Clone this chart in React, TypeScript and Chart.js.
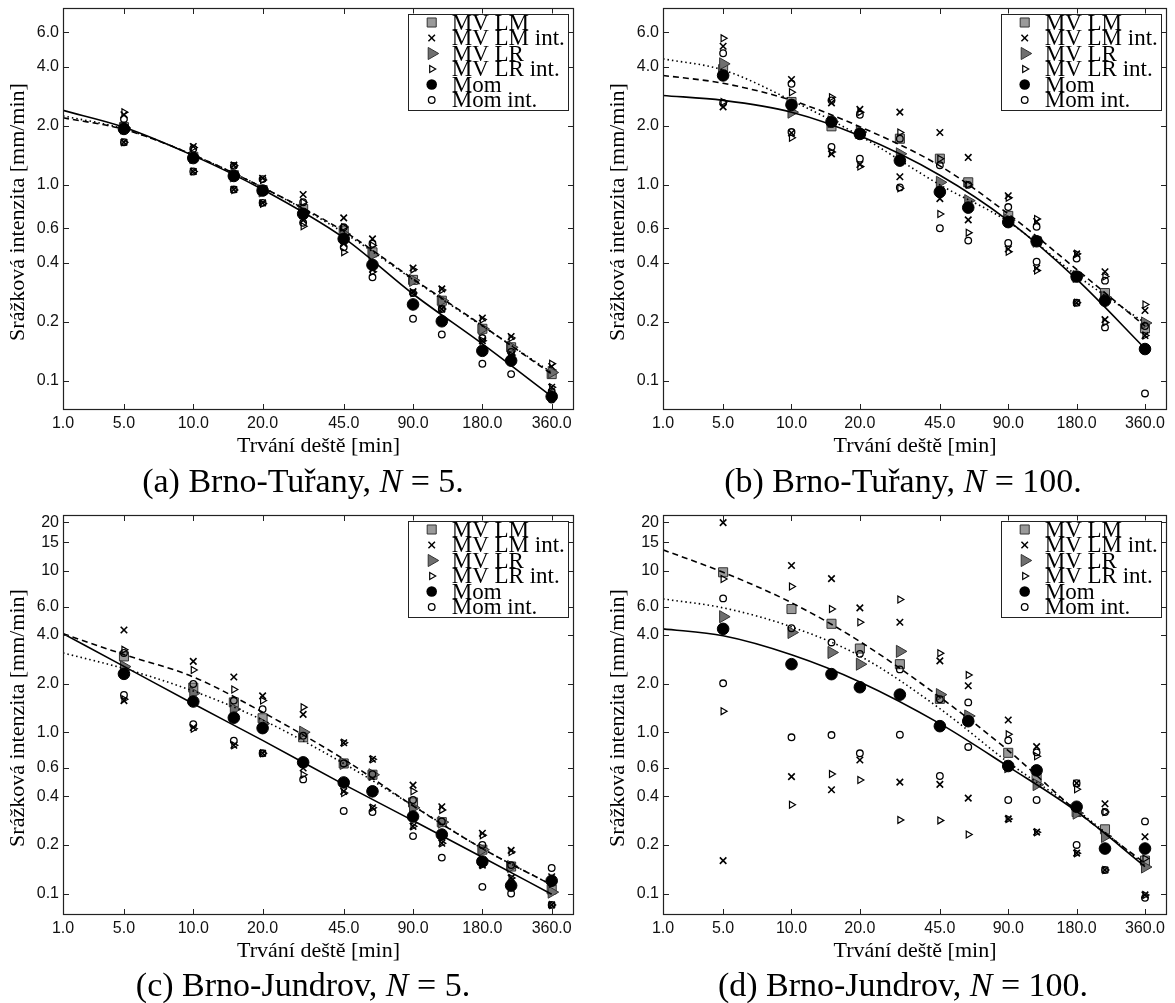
import React, { useEffect, useRef } from "react";
import { Chart, registerables } from "chart.js";

Chart.register(...registerables);
Chart.defaults.font.family = "'Liberation Sans', Arial, sans-serif";

const E = Math.E;

// ---------- axes / categories ----------
const DURATIONS = [5, 10, 15, 20, 30, 45, 60, 90, 120, 180, 240, 360];
const FIT_X = [E, 5, 10, 20, 45, 90, 180, 360];
const X_TICKS = [E, 5, 10, 20, 45, 90, 180, 360];
const X_TICK_LABELS = ["1.0", "5.0", "10.0", "20.0", "45.0", "90.0", "180.0", "360.0"];
const Y_TICKS_TURANY = [0.1, 0.2, 0.4, 0.6, 1, 2, 4, 6];
const Y_TICK_LABELS_TURANY = ["0.1", "0.2", "0.4", "0.6", "1.0", "2.0", "4.0", "6.0"];
const Y_TICKS_JUNDROV = [0.1, 0.2, 0.4, 0.6, 1, 2, 4, 6, 10, 15, 20];
const Y_TICK_LABELS_JUNDROV = ["0.1", "0.2", "0.4", "0.6", "1.0", "2.0", "4.0", "6.0", "10", "15", "20"];
const LEGEND_LABELS = ["MV LM", "MV LM int.", "MV LR", "MV LR int.", "Mom", "Mom int."];
const X_TITLE = "Trvání deště [min]";
const Y_TITLE = "Srážková intenzita [mm/min]";

// ---------- (a) Brno-Tuřany, N = 5 ----------
const A_MV_LM = [1.97, 1.39, 1.12, 0.94, 0.754, 0.584, 0.452, 0.327, 0.256, 0.184, 0.148, 0.108];
const A_MV_LM_INT_LO = [1.65, 1.17, 0.946, 0.809, 0.66, 0.5, 0.37, 0.285, 0.232, 0.16, 0.135, 0.0925];
const A_MV_LM_INT_HI = [2.28, 1.57, 1.26, 1.08, 0.892, 0.678, 0.53, 0.376, 0.294, 0.209, 0.168, 0.118];
const A_MV_LR = [1.95, 1.38, 1.11, 0.93, 0.72, 0.56, 0.44, 0.325, 0.256, 0.184, 0.148, 0.11];
const A_MV_LR_INT_LO = [1.65, 1.17, 0.94, 0.8, 0.614, 0.453, 0.36, 0.28, 0.232, 0.16, 0.135, 0.0925];
const A_MV_LR_INT_HI = [2.35, 1.55, 1.25, 1.06, 0.815, 0.607, 0.49, 0.37, 0.29, 0.205, 0.165, 0.122];
const A_MOM = [1.93, 1.37, 1.11, 0.935, 0.711, 0.53, 0.39, 0.245, 0.201, 0.142, 0.1265, 0.083];
const A_MOM_INT_LO = [1.65, 1.17, 0.946, 0.809, 0.64, 0.48, 0.337, 0.207, 0.172, 0.122, 0.108, 0.08];
const A_MOM_INT_HI = [2.17, 1.53, 1.25, 1.07, 0.815, 0.607, 0.5, 0.28, 0.232, 0.165, 0.14, 0.088];
const A_FIT_MOM = [2.4, 1.97, 1.41, 0.946, 0.536, 0.277, 0.154, 0.083];
const A_FIT_LM = [2.2, 1.92, 1.42, 0.97, 0.58, 0.331, 0.191, 0.108];
const A_FIT_LR = [2.25, 1.93, 1.42, 0.97, 0.57, 0.328, 0.19, 0.11];

// ---------- (b) Brno-Tuřany, N = 100 ----------
const B_MV_LM = [3.9, 2.65, 1.99, 1.82, 1.72, 1.36, 1.03, 0.694, 0.515, 0.34, 0.28, 0.185];
const B_MV_LM_INT_LO = [2.5, 1.84, 1.44, 1.27, 1.1, 0.85, 0.662, 0.47, 0.375, 0.25, 0.205, 0.17];
const B_MV_LM_INT_HI = [5.1, 3.45, 2.62, 2.43, 2.35, 1.85, 1.38, 0.88, 0.65, 0.444, 0.36, 0.228];
const B_MV_LR = [4.15, 2.35, 2.1, 1.86, 1.44, 1.03, 0.83, 0.66, 0.515, 0.34, 0.266, 0.197];
const B_MV_LR_INT_LO = [2.65, 1.74, 1.47, 1.24, 0.96, 0.71, 0.57, 0.455, 0.365, 0.25, 0.198, 0.17];
const B_MV_LR_INT_HI = [5.6, 2.97, 2.8, 2.35, 1.85, 1.36, 1.0, 0.86, 0.67, 0.444, 0.34, 0.245];
const B_MOM = [3.62, 2.56, 2.1, 1.82, 1.33, 0.92, 0.765, 0.645, 0.515, 0.34, 0.256, 0.145];
const B_MOM_INT_LO = [2.62, 1.86, 1.56, 1.36, 0.97, 0.6, 0.519, 0.505, 0.405, 0.25, 0.187, 0.086];
const B_MOM_INT_HI = [4.7, 3.28, 2.7, 2.28, 1.72, 1.26, 1.0, 0.77, 0.61, 0.42, 0.324, 0.19];
const B_FIT_MOM = [2.86, 2.7, 2.35, 1.78, 1.12, 0.657, 0.33, 0.146];
const B_FIT_LM = [3.62, 3.3, 2.7, 1.98, 1.25, 0.71, 0.37, 0.19];
const B_FIT_LR = [4.4, 3.86, 2.7, 1.78, 1.0, 0.648, 0.345, 0.197];

// ---------- (c) Brno-Jundrov, N = 5 ----------
const C_MV_LM = [2.95, 1.89, 1.53, 1.22, 0.93, 0.64, 0.545, 0.367, 0.277, 0.187, 0.147, 0.106];
const C_MV_LM_INT_LO = [1.57, 1.07, 0.83, 0.74, 0.6, 0.43, 0.34, 0.261, 0.205, 0.15, 0.125, 0.085];
const C_MV_LM_INT_HI = [4.3, 2.75, 2.2, 1.68, 1.29, 0.86, 0.68, 0.47, 0.345, 0.2365, 0.185, 0.127];
const C_MV_LR = [2.55, 1.745, 1.39, 1.13, 1.0, 0.64, 0.545, 0.34, 0.277, 0.187, 0.147, 0.102];
const C_MV_LR_INT_LO = [1.6, 1.05, 0.83, 0.74, 0.545, 0.42, 0.34, 0.261, 0.205, 0.15, 0.125, 0.085];
const C_MV_LR_INT_HI = [3.24, 2.43, 1.84, 1.57, 1.43, 0.86, 0.68, 0.43, 0.33, 0.23, 0.181, 0.115];
const C_MOM = [2.3, 1.55, 1.23, 1.06, 0.65, 0.488, 0.43, 0.3, 0.232, 0.158, 0.112, 0.12];
const C_MOM_INT_LO = [1.7, 1.12, 0.885, 0.74, 0.51, 0.325, 0.32, 0.227, 0.167, 0.11, 0.1, 0.085];
const C_MOM_INT_HI = [3.1, 1.99, 1.57, 1.39, 0.95, 0.64, 0.55, 0.38, 0.28, 0.2, 0.15, 0.144];
const C_FIT_MOM = [4.08, 2.56, 1.5, 0.89, 0.475, 0.283, 0.168, 0.099];
const C_FIT_LM = [4.08, 3.03, 2.2, 1.33, 0.68, 0.35, 0.19, 0.113];
const C_FIT_LR = [3.1, 2.48, 1.8, 1.19, 0.64, 0.35, 0.19, 0.113];

// ---------- (d) Brno-Jundrov, N = 100 ----------
const D_MV_LM = [9.8, 5.8, 4.7, 3.3, 2.64, 1.61, 1.2, 0.745, 0.52, 0.32, 0.25, 0.16];
const D_MV_LM_INT_LO = [0.16, 0.53, 0.44, 0.673, 0.49, 0.475, 0.39, 0.29, 0.24, 0.178, 0.14, 0.098];
const D_MV_LM_INT_HI = [19.9, 10.8, 8.95, 5.9, 4.8, 2.77, 1.94, 1.19, 0.814, 0.483, 0.36, 0.225];
const D_MV_LR = [5.2, 4.15, 3.12, 2.64, 3.17, 1.71, 1.26, 0.61, 0.473, 0.315, 0.226, 0.146];
const D_MV_LR_INT_LO = [1.35, 0.355, 0.55, 0.505, 0.286, 0.284, 0.232, 0.29, 0.24, 0.178, 0.14, 0.098];
const D_MV_LR_INT_HI = [8.9, 8.0, 5.8, 4.8, 6.65, 3.09, 2.26, 0.97, 0.71, 0.443, 0.32, 0.165];
const D_MOM = [4.37, 2.64, 2.29, 1.9, 1.71, 1.09, 1.17, 0.617, 0.58, 0.345, 0.19, 0.19];
const D_MOM_INT_LO = [2.01, 0.93, 0.96, 0.74, 0.965, 0.535, 0.81, 0.38, 0.38, 0.2, 0.14, 0.094];
const D_MOM_INT_HI = [6.75, 4.41, 3.6, 3.06, 2.45, 1.6, 1.53, 0.89, 0.75, 0.483, 0.32, 0.28];
const D_FIT_MOM = [4.37, 3.96, 3.02, 2.05, 1.13, 0.612, 0.323, 0.147];
const D_FIT_LM = [13.5, 9.8, 6.35, 3.65, 1.65, 0.77, 0.325, 0.154];
const D_FIT_LR = [6.7, 5.9, 4.5, 2.97, 1.4, 0.65, 0.33, 0.15];

// ---------- styles ----------
const SQ_FILL = "#9a9a9a";
const TRI_FILL = "#6f6f6f";
const EDGE = "#333";
const SERIF = "'Liberation Serif', 'Times New Roman', serif";

// marker sizes (Chart.js radii)
const R_SQ = 6.4;
const R_CROSS = 4.6;
const R_TRI = 7.0;
const R_TRI_OPEN = 4.0;
const R_DOT = 5.8;
const R_RING = 3.3;

type Panel = {
  key: string;
  left: number;
  top: number;
  width: number;
  height: number;
  padRight: number;
  yMin: number;
  yMax: number;
  yTicks: number[];
  yLabels: string[];
  lm: number[]; lmLo: number[]; lmHi: number[];
  lr: number[]; lrLo: number[]; lrHi: number[];
  mom: number[]; momLo: number[]; momHi: number[];
  fitMom: number[]; fitLm: number[]; fitLr: number[];
  caption: React.ReactNode;
  captionTop: number;
};

const PLOT_LEFT_OFFSET = 63;
const PAD_TOP = 16;

const PANELS: Panel[] = [
  {
    key: "a", left: 0, top: -8, width: 590, height: 478, padRight: 16,
    yMin: 0.0708, yMax: 8.0, yTicks: Y_TICKS_TURANY, yLabels: Y_TICK_LABELS_TURANY,
    lm: A_MV_LM, lmLo: A_MV_LM_INT_LO, lmHi: A_MV_LM_INT_HI,
    lr: A_MV_LR, lrLo: A_MV_LR_INT_LO, lrHi: A_MV_LR_INT_HI,
    mom: A_MOM, momLo: A_MOM_INT_LO, momHi: A_MOM_INT_HI,
    fitMom: A_FIT_MOM, fitLm: A_FIT_LM, fitLr: A_FIT_LR,
    caption: <>(a) Brno-Tuřany, <i>N</i> = 5.</>, captionTop: 461,
  },
  {
    key: "b", left: 600, top: -8, width: 575, height: 478, padRight: 1,
    yMin: 0.0708, yMax: 8.0, yTicks: Y_TICKS_TURANY, yLabels: Y_TICK_LABELS_TURANY,
    lm: B_MV_LM, lmLo: B_MV_LM_INT_LO, lmHi: B_MV_LM_INT_HI,
    lr: B_MV_LR, lrLo: B_MV_LR_INT_LO, lrHi: B_MV_LR_INT_HI,
    mom: B_MOM, momLo: B_MOM_INT_LO, momHi: B_MOM_INT_HI,
    fitMom: B_FIT_MOM, fitLm: B_FIT_LM, fitLr: B_FIT_LR,
    caption: <>(b) Brno-Tuřany, <i>N</i> = 100.</>, captionTop: 461,
  },
  {
    key: "c", left: 0, top: 499, width: 590, height: 476, padRight: 16,
    yMin: 0.0736, yMax: 22.2, yTicks: Y_TICKS_JUNDROV, yLabels: Y_TICK_LABELS_JUNDROV,
    lm: C_MV_LM, lmLo: C_MV_LM_INT_LO, lmHi: C_MV_LM_INT_HI,
    lr: C_MV_LR, lrLo: C_MV_LR_INT_LO, lrHi: C_MV_LR_INT_HI,
    mom: C_MOM, momLo: C_MOM_INT_LO, momHi: C_MOM_INT_HI,
    fitMom: C_FIT_MOM, fitLm: C_FIT_LM, fitLr: C_FIT_LR,
    caption: <>(c) Brno-Jundrov, <i>N</i> = 5.</>, captionTop: 965,
  },
  {
    key: "d", left: 600, top: 499, width: 575, height: 476, padRight: 1,
    yMin: 0.0736, yMax: 22.2, yTicks: Y_TICKS_JUNDROV, yLabels: Y_TICK_LABELS_JUNDROV,
    lm: D_MV_LM, lmLo: D_MV_LM_INT_LO, lmHi: D_MV_LM_INT_HI,
    lr: D_MV_LR, lrLo: D_MV_LR_INT_LO, lrHi: D_MV_LR_INT_HI,
    mom: D_MOM, momLo: D_MOM_INT_LO, momHi: D_MOM_INT_HI,
    fitMom: D_FIT_MOM, fitLm: D_FIT_LM, fitLr: D_FIT_LR,
    caption: <>(d) Brno-Jundrov, <i>N</i> = 100.</>, captionTop: 965,
  },
];

function drawMarker(ctx: CanvasRenderingContext2D, kind: string, x: number, y: number) {
  ctx.save();
  ctx.beginPath();
  if (kind === "square") {
    const h = R_SQ * Math.SQRT1_2;
    ctx.fillStyle = SQ_FILL; ctx.strokeStyle = EDGE; ctx.lineWidth = 1;
    ctx.rect(x - h, y - h, 2 * h, 2 * h); ctx.fill(); ctx.stroke();
  } else if (kind === "cross") {
    const h = R_CROSS * Math.SQRT1_2;
    ctx.strokeStyle = "#000"; ctx.lineWidth = 1.5;
    ctx.moveTo(x - h, y - h); ctx.lineTo(x + h, y + h);
    ctx.moveTo(x - h, y + h); ctx.lineTo(x + h, y - h); ctx.stroke();
  } else if (kind === "triFill" || kind === "triOpen") {
    const r = kind === "triFill" ? R_TRI : R_TRI_OPEN;
    ctx.moveTo(x + r, y);
    ctx.lineTo(x - r / 2, y - r * 0.866);
    ctx.lineTo(x - r / 2, y + r * 0.866);
    ctx.closePath();
    if (kind === "triFill") { ctx.fillStyle = TRI_FILL; ctx.fill(); ctx.strokeStyle = EDGE; ctx.lineWidth = 1; }
    else { ctx.strokeStyle = "#000"; ctx.lineWidth = 1.2; }
    ctx.stroke();
  } else if (kind === "dot") {
    ctx.fillStyle = "#000"; ctx.arc(x, y, R_DOT - 0.5, 0, Math.PI * 2); ctx.fill();
  } else if (kind === "ring") {
    ctx.strokeStyle = "#000"; ctx.lineWidth = 1.3; ctx.arc(x, y, R_RING, 0, Math.PI * 2); ctx.stroke();
  }
  ctx.restore();
}

const LEGEND_KINDS = ["square", "cross", "triFill", "triOpen", "dot", "ring"];

function makeFramePlugin(p: Panel) {
  return {
    id: "frameAndLegend",
    afterDraw(chart: any) {
      const { ctx, chartArea: a } = chart;
      const xs = chart.scales.x;
      const ys = chart.scales.y;
      ctx.save();
      // ticks (inward on all four sides)
      ctx.strokeStyle = "#222";
      ctx.lineWidth = 1;
      ctx.beginPath();
      X_TICKS.forEach((v) => {
        const px = Math.round(xs.getPixelForValue(v)) + 0.5;
        ctx.moveTo(px, a.top); ctx.lineTo(px, a.top + 6);
        ctx.moveTo(px, a.bottom); ctx.lineTo(px, a.bottom - 6);
      });
      p.yTicks.forEach((v) => {
        const py = Math.round(ys.getPixelForValue(v)) + 0.5;
        ctx.moveTo(a.left, py); ctx.lineTo(a.left + 6, py);
        ctx.moveTo(a.right, py); ctx.lineTo(a.right - 6, py);
      });
      ctx.stroke();
      ctx.lineWidth = 1.2;
      ctx.strokeRect(a.left + 0.5, a.top + 0.5, a.right - a.left - 1, a.bottom - a.top - 1);

      // axis titles
      ctx.fillStyle = "#000";
      ctx.font = `22px ${SERIF}`;
      ctx.textAlign = "center";
      ctx.textBaseline = "middle";
      ctx.fillText(X_TITLE, (a.left + a.right) / 2, a.bottom + 36);
      ctx.save();
      ctx.translate(a.left - 45, (a.top + a.bottom) / 2 + 3);
      ctx.rotate(-Math.PI / 2);
      ctx.fillText(Y_TITLE, 0, 0);
      ctx.restore();

      // legend
      const bw = 160, bh = 96;
      const bx = a.right - 6 - bw;
      const by = a.top + 5.5;
      ctx.fillStyle = "#fff";
      ctx.fillRect(bx, by, bw, bh);
      ctx.strokeStyle = "#222";
      ctx.lineWidth = 1;
      ctx.strokeRect(Math.round(bx) + 0.5, Math.round(by) + 0.5, bw, bh);
      ctx.font = `23px ${SERIF}`;
      ctx.textAlign = "left";
      ctx.textBaseline = "middle";
      LEGEND_LABELS.forEach((lab, i) => {
        const cy = by + 9 + i * 15.5;
        drawMarker(ctx, LEGEND_KINDS[i], bx + 23.7, cy);
        ctx.fillStyle = "#000";
        ctx.fillText(lab, bx + 43.7, cy + 1);
      });
      ctx.restore();
    },
  };
}

function buildChart(canvas: HTMLCanvasElement, p: Panel) {
  const pts = (arr: number[]) => DURATIONS.map((d, i) => ({ x: d, y: arr[i] }));
  const ptsInt = (lo: number[], hi: number[]) => [...pts(lo), ...pts(hi)];
  const fit = (arr: number[]) => FIT_X.map((d, i) => ({ x: d, y: arr[i] }));
  const lineDs = (arr: number[], dash: number[]) => ({
    data: fit(arr),
    showLine: true,
    borderColor: "#000",
    borderWidth: 1.6,
    borderDash: dash,
    pointRadius: 0,
    pointHoverRadius: 0,
    fill: false,
    cubicInterpolationMode: "monotone",
  });
  const datasets: any[] = [
    lineDs(p.fitMom, []),
    lineDs(p.fitLm, [6, 4]),
    lineDs(p.fitLr, [1.5, 3]),
    {
      data: ptsInt(p.momLo, p.momHi), pointStyle: "circle", pointRadius: R_RING,
      pointBackgroundColor: "rgba(0,0,0,0)", pointBorderColor: "#000", pointBorderWidth: 1.3,
    },
    {
      data: pts(p.mom), pointStyle: "circle", pointRadius: R_DOT,
      pointBackgroundColor: "#000", pointBorderColor: "#000", pointBorderWidth: 1,
    },
    {
      data: ptsInt(p.lrLo, p.lrHi), pointStyle: "triangle", pointRotation: 90, pointRadius: R_TRI_OPEN,
      pointBackgroundColor: "rgba(0,0,0,0)", pointBorderColor: "#000", pointBorderWidth: 1.2,
    },
    {
      data: pts(p.lr), pointStyle: "triangle", pointRotation: 90, pointRadius: R_TRI,
      pointBackgroundColor: TRI_FILL, pointBorderColor: EDGE, pointBorderWidth: 1,
    },
    {
      data: ptsInt(p.lmLo, p.lmHi), pointStyle: "crossRot", pointRadius: R_CROSS,
      pointBorderColor: "#000", pointBorderWidth: 1.6,
    },
    {
      data: pts(p.lm), pointStyle: "rect", pointRadius: R_SQ,
      pointBackgroundColor: SQ_FILL, pointBorderColor: EDGE, pointBorderWidth: 1,
    },
  ];

  return new Chart(canvas, {
    type: "scatter",
    data: { datasets },
    options: {
      animation: false,
      responsive: false,
      devicePixelRatio: 1,
      events: [],
      layout: { padding: { left: 0, top: PAD_TOP, right: p.padRight, bottom: 0 } },
      plugins: { legend: { display: false }, tooltip: { enabled: false }, title: { display: false } },
      scales: {
        x: {
          type: "logarithmic",
          position: "bottom",
          bounds: "data",
          min: E,
          max: 450,
          afterBuildTicks: (ax: any) => { ax.ticks = X_TICKS.map((v) => ({ value: v })); },
          afterFit: (ax: any) => { ax.height = 60; },
          grid: { display: false, drawTicks: false },
          border: { display: false },
          ticks: {
            autoSkip: false, maxRotation: 0, minRotation: 0, padding: 4, color: "#111",
            font: { size: 16 },
            callback: (_v: any, i: number) => X_TICK_LABELS[i],
          },
        },
        y: {
          type: "logarithmic",
          position: "left",
          bounds: "data",
          min: p.yMin,
          max: p.yMax,
          afterBuildTicks: (ax: any) => { ax.ticks = p.yTicks.map((v) => ({ value: v })); },
          afterFit: (ax: any) => { ax.width = PLOT_LEFT_OFFSET; },
          grid: { display: false, drawTicks: false },
          border: { display: false },
          ticks: {
            autoSkip: false, padding: 4, color: "#111",
            font: { size: 16 },
            callback: (_v: any, i: number) => p.yLabels[i],
          },
        },
      },
    } as any,
    plugins: [makeFramePlugin(p)],
  });
}

function PanelChart({ p }: { p: Panel }) {
  const ref = useRef<HTMLCanvasElement>(null);
  useEffect(() => {
    const chart = buildChart(ref.current!, p);
    return () => chart.destroy();
  }, [p]);
  return (
    <canvas
      ref={ref}
      width={p.width}
      height={p.height}
      style={{ position: "absolute", left: p.left, top: p.top, width: p.width, height: p.height, display: "block" }}
    />
  );
}

export default function App() {
  return (
    <div style={{ position: "absolute", left: 0, top: 0, width: 1175, height: 1003, overflow: "hidden", background: "#fff" }}>
      {PANELS.map((p) => (
        <PanelChart key={p.key} p={p} />
      ))}
      {PANELS.map((p) => (
        <div
          key={"cap" + p.key}
          style={{
            position: "absolute",
            left: p.left + 318 - 15 - 300,
            width: 600,
            top: p.captionTop,
            textAlign: "center",
            fontFamily: SERIF,
            fontSize: 34,
            lineHeight: "40px",
            color: "#000",
            whiteSpace: "nowrap",
          }}
        >
          {p.caption}
        </div>
      ))}
    </div>
  );
}
